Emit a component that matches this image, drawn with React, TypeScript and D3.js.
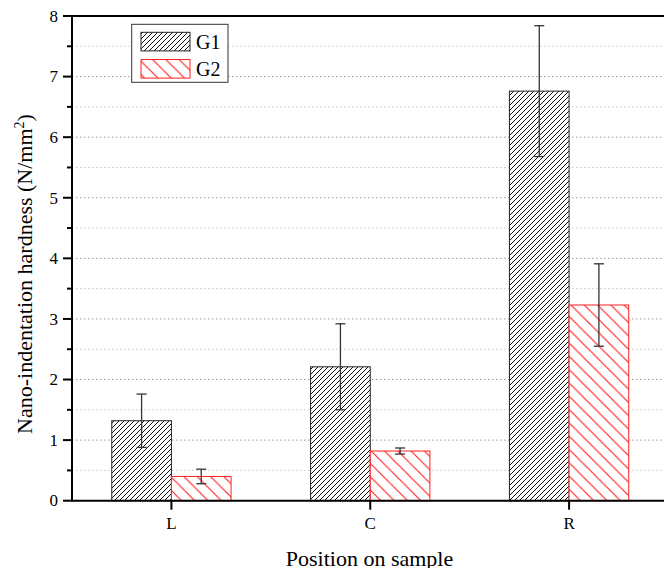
import React from "react";
import * as d3 from "d3";

const categories = ["L", "C", "R"];
const seriesNames = ["G1", "G2"];
const g1Values = [1.32, 2.21, 6.76];
const g1Errors = [0.44, 0.71, 1.08];
const g2Values = [0.40, 0.82, 3.23];
const g2Errors = [0.12, 0.05, 0.68];
const yTicks = [0, 1, 2, 3, 4, 5, 6, 7, 8];
const yMinorTicks = [0.5, 1.5, 2.5, 3.5, 4.5, 5.5, 6.5, 7.5];

const W = 664;
const H = 568;
const left = 72;
const right = 668.5;
const top = 16;
const bottom = 500.7;
const FONT = "'Liberation Serif', 'Times New Roman', serif";

export default function App() {
  const x = d3.scaleLinear().domain([0.5, 3.5]).range([left, right]);
  const y = d3.scaleLinear().domain([0, 8]).range([bottom, top]);
  const step = x(2) - x(1);
  const barW = step * 0.3;

  const series = [
    { name: seriesNames[0], values: g1Values, errors: g1Errors, fill: "url(#hatchG1)", stroke: "#222", offset: -1 },
    { name: seriesNames[1], values: g2Values, errors: g2Errors, fill: "url(#hatchG2)", stroke: "#ff2020", offset: 0 },
  ];

  return (
    <svg width={W} height={H} style={{ position: "absolute", left: 0, top: 0, background: "#fff" }} fontFamily={FONT}>
      <defs>
        <pattern id="hatchG1" patternUnits="userSpaceOnUse" width={5} height={5}>
          <rect width={5} height={5} fill="#fff" />
          <path d="M-1,1 L1,-1 M0,5 L5,0 M4,6 L6,4" stroke="#111" strokeWidth={1} />
        </pattern>
        <pattern id="hatchG2" patternUnits="userSpaceOnUse" width={13.3} height={13.3}>
          <rect width={13.3} height={13.3} fill="#fff" />
          <path d="M-1,-1 L14.3,14.3 M-1,12.3 L1,14.3 M12.3,-1 L14.3,1" stroke="#ff1a1a" strokeWidth={1.1} />
        </pattern>
        <clipPath id="plotClip">
          <rect x={left} y={top} width={right - left} height={bottom - top} />
        </clipPath>
      </defs>

      {/* gridlines */}
      {yMinorTicks.map((t) => (
        <line key={"gm" + t} x1={left} x2={right} y1={y(t)} y2={y(t)} stroke="#c8c8c8" strokeDasharray="1.5,2.5" strokeWidth={1} />
      ))}
      {yTicks.filter((t) => t > 0 && t < 8).map((t) => (
        <line key={"g" + t} x1={left} x2={right} y1={y(t)} y2={y(t)} stroke="#9a9a9a" strokeDasharray="1.5,2.5" strokeWidth={1} />
      ))}

      {/* bars */}
      {series.map((s) =>
        categories.map((c, i) => {
          const cx = x(i + 1);
          const x0 = cx + s.offset * barW;
          return (
            <rect key={s.name + c} x={x0} y={y(s.values[i])} width={barW} height={y(0) - y(s.values[i])}
              fill={s.fill} stroke={s.stroke} strokeWidth={1} />
          );
        })
      )}

      {/* error bars */}
      {series.map((s) =>
        categories.map((c, i) => {
          const cx = x(i + 1) + s.offset * barW + barW / 2;
          const hi = y(s.values[i] + s.errors[i]);
          const lo = y(s.values[i] - s.errors[i]);
          return (
            <g key={"e" + s.name + c} stroke="#333" strokeWidth={1.3}>
              <line x1={cx} x2={cx} y1={hi} y2={lo} />
              <line x1={cx - 5} x2={cx + 5} y1={hi} y2={hi} />
              <line x1={cx - 5} x2={cx + 5} y1={lo} y2={lo} />
            </g>
          );
        })
      )}

      {/* axes */}
      <line x1={left} x2={right} y1={top} y2={top} stroke="#000" strokeWidth={2} />
      <line x1={left} x2={right} y1={bottom} y2={bottom} stroke="#000" strokeWidth={2} />
      <line x1={left} x2={left} y1={top - 1} y2={bottom + 1} stroke="#000" strokeWidth={2} />
      <line x1={right} x2={right} y1={top - 1} y2={bottom + 1} stroke="#000" strokeWidth={2} />

      {yTicks.map((t) => (
        <g key={"yt" + t}>
          <line x1={left - 9} x2={left} y1={y(t)} y2={y(t)} stroke="#000" strokeWidth={2} />
          <text x={left - 14} y={y(t)} dy="0.34em" textAnchor="end" fontSize={17}>{t}</text>
        </g>
      ))}
      {yMinorTicks.map((t) => (
        <line key={"ym" + t} x1={left - 5} x2={left} y1={y(t)} y2={y(t)} stroke="#000" strokeWidth={2} />
      ))}

      {categories.map((c, i) => (
        <g key={"xt" + c}>
          <line x1={x(i + 1)} x2={x(i + 1)} y1={bottom} y2={bottom + 9} stroke="#000" strokeWidth={2} />
          <text x={x(i + 1)} y={529} textAnchor="middle" fontSize={17}>{c}</text>
        </g>
      ))}

      {/* axis titles */}
      <text x={369.5} y={566} textAnchor="middle" fontSize={22}>Position on sample</text>
      <text transform="translate(31.5,274) rotate(-90)" textAnchor="middle" fontSize={22}>
        Nano-indentation hardness (N/mm<tspan dy="-8" fontSize={14}>2</tspan><tspan dy="8">)</tspan>
      </text>

      {/* legend */}
      <rect x={131.7} y={24.3} width={96.3} height={58} fill="#fff" stroke="#333" strokeWidth={1} />
      {series.map((s, i) => (
        <g key={"lg" + s.name}>
          <rect x={141} y={32.3 + i * 27.2} width={49} height={18.6} fill={s.fill} stroke={s.stroke} strokeWidth={1} />
          <text x={196} y={48.5 + i * 27.5} fontSize={20}>{s.name}</text>
        </g>
      ))}
    </svg>
  );
}
